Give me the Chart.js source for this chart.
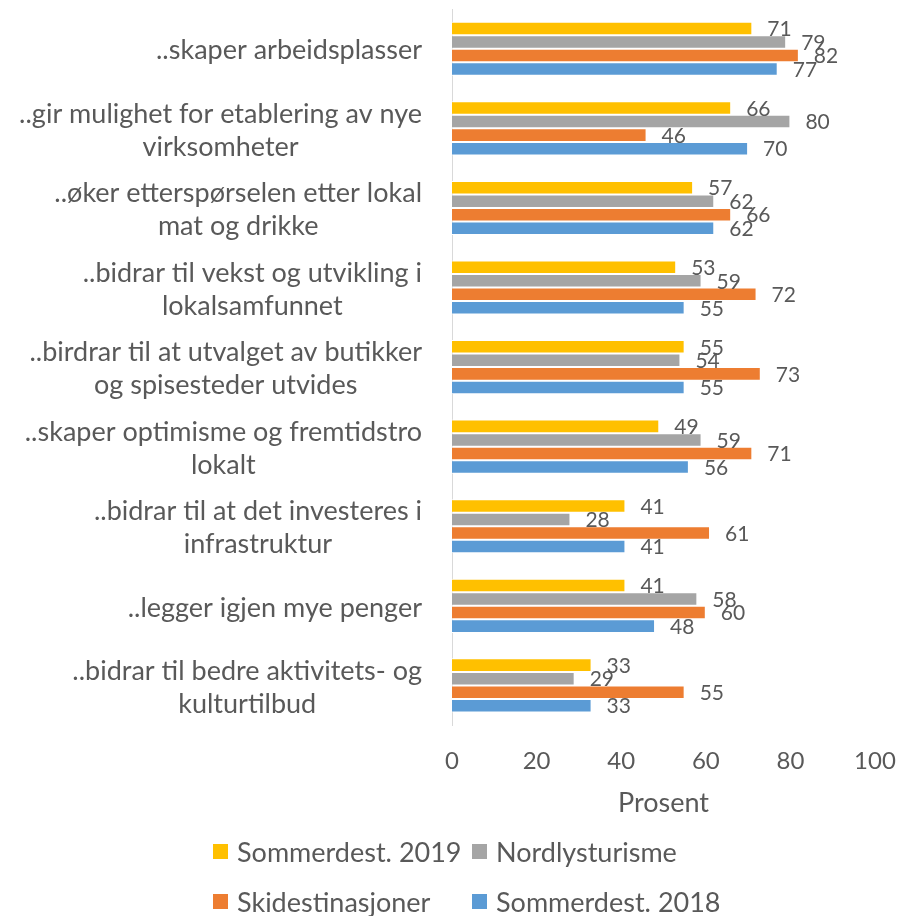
<!DOCTYPE html>
<html>
<head>
<meta charset="utf-8">
<script src="https://cdn.jsdelivr.net/npm/chart.js@4"></script>
<style>
  html, body { margin: 0; padding: 0; background: #fff; }
  #wrap { position: relative; width: 901px; height: 916px; }
  #legend { position: absolute; left: 0; top: 0; width: 901px; height: 916px; pointer-events: none;
    font-family: Lato, sans-serif; font-size: 27px; color: #595959; }
  .legend-item { position: absolute; display: flex; align-items: center; white-space: nowrap; }
  .legend-item span.box { width: 15px; height: 15px; display: inline-block; margin-right: 9px; }
</style>
</head>
<body>
<div id="wrap">
  <canvas id="chart" width="901" height="916"></canvas>
  <div id="legend"></div>
</div>
<script>
const categories = [
  "..skaper arbeidsplasser",
  ["..gir mulighet for etablering av nye", "virksomheter"],
  ["..øker etterspørselen etter lokal", "mat og drikke"],
  ["..bidrar til vekst og utvikling i", "lokalsamfunnet"],
  ["..birdrar til at utvalget av butikker", "og spisesteder utvides"],
  ["..skaper optimisme og fremtidstro", "lokalt"],
  ["..bidrar til at det investeres i", "infrastruktur"],
  "..legger igjen mye penger",
  ["..bidrar til bedre aktivitets- og", "kulturtilbud"],
];

const seriesNames = ["Sommerdest. 2019", "Nordlysturisme", "Skidestinasjoner", "Sommerdest. 2018"];
const sommer2019 = [71, 66, 57, 53, 55, 49, 41, 41, 33];
const nordlys = [79, 80, 62, 59, 54, 59, 28, 58, 29];
const skidest = [82, 46, 66, 72, 73, 71, 61, 60, 55];
const sommer2018 = [77, 70, 62, 55, 55, 56, 41, 48, 33];
const xTicks = [0, 20, 40, 60, 80, 100];
const axisTitle = "Prosent";

const colors = ["#FFC000", "#A5A5A5", "#ED7D31", "#5B9BD5"];
const textColor = "#595959";
const fontFamily = "Lato, sans-serif";

const seriesValues = [sommer2019, nordlys, skidest, sommer2018];

// category labels: block right-aligned, lines centred inside the block
// also draws the x axis title under the tick labels
const categoryLabels = {
  id: "categoryLabels",
  afterDraw(chart) {
    const { ctx, chartArea } = chart;
    const yScale = chart.scales.y;
    const right = chartArea.left - 30;
    const lineGap = 33;
    ctx.save();
    ctx.font = `27px ${fontFamily}`;
    ctx.fillStyle = textColor;
    ctx.textBaseline = "middle";
    ctx.textAlign = "center";
    categories.forEach((label, i) => {
      const lines = Array.isArray(label) ? label : [label];
      const blockWidth = Math.max(...lines.map((l) => ctx.measureText(l).width));
      const cx = right - blockWidth / 2;
      const cy = yScale.getPixelForTick(i) + 2;
      lines.forEach((line, j) => {
        const y = cy + (j - (lines.length - 1) / 2) * lineGap;
        ctx.fillText(line, cx, y);
      });
    });
    ctx.fillText(axisTitle, (chartArea.left + chartArea.right) / 2, chartArea.bottom + 78);
    ctx.restore();
  },
};

const valueLabels = {
  id: "valueLabels",
  afterDatasetsDraw(chart) {
    const { ctx } = chart;
    ctx.save();
    ctx.font = `21px ${fontFamily}`;
    ctx.fillStyle = textColor;
    ctx.textBaseline = "middle";
    ctx.textAlign = "left";
    chart.data.datasets.forEach((ds, di) => {
      const meta = chart.getDatasetMeta(di);
      meta.data.forEach((bar, i) => {
        ctx.fillText(String(ds.data[i]), bar.x + 15, bar.y + 1);
      });
    });
    ctx.restore();
  },
};

new Chart(document.getElementById("chart"), {
  type: "bar",
  data: {
    labels: categories,
    datasets: seriesNames.map((name, i) => ({
      label: name,
      data: seriesValues[i],
      backgroundColor: colors[i],
      borderColor: "#ffffff",
      borderWidth: 1,
      barPercentage: 1,
      categoryPercentage: 0.68,
    })),
  },
  options: {
    indexAxis: "y",
    responsive: false,
    animation: false,
    layout: { padding: { top: 9, right: 26, bottom: 118, left: 0 } },
    plugins: {
      legend: { display: false },
      tooltip: { enabled: false },
    },
    scales: {
      x: {
        min: 0,
        max: 100,
        afterBuildTicks(scale) {
          scale.ticks = xTicks.map((v) => ({ value: v }));
        },
        afterFit(scale) {
          scale.paddingLeft = 0;
          scale.paddingRight = 0;
        },
        grid: { display: false, drawTicks: false },
        border: { display: false },
        ticks: {
          color: textColor,
          font: { family: fontFamily, size: 24 },
          padding: 22,
        },
        title: { display: false },
      },
      y: {
        grid: { display: false, drawTicks: false },
        border: { display: true, color: "#D9D9D9", width: 1 },
        ticks: { display: false },
        afterFit(scale) {
          scale.width = 452;
        },
      },
    },
  },
  plugins: [categoryLabels, valueLabels],
});

// legend laid out in two columns like the original
const legendPos = [
  { x: 213, y: 851 },
  { x: 472, y: 851 },
  { x: 213, y: 901 },
  { x: 472, y: 901 },
];
const legendEl = document.getElementById("legend");
seriesNames.forEach((name, i) => {
  const item = document.createElement("div");
  item.className = "legend-item";
  item.style.left = legendPos[i].x + "px";
  item.style.top = legendPos[i].y - 16 + "px";
  item.style.height = "32px";
  item.innerHTML = `<span class="box" style="background:${colors[i]}"></span>${name}`;
  legendEl.appendChild(item);
});
</script>
</body>
</html>
